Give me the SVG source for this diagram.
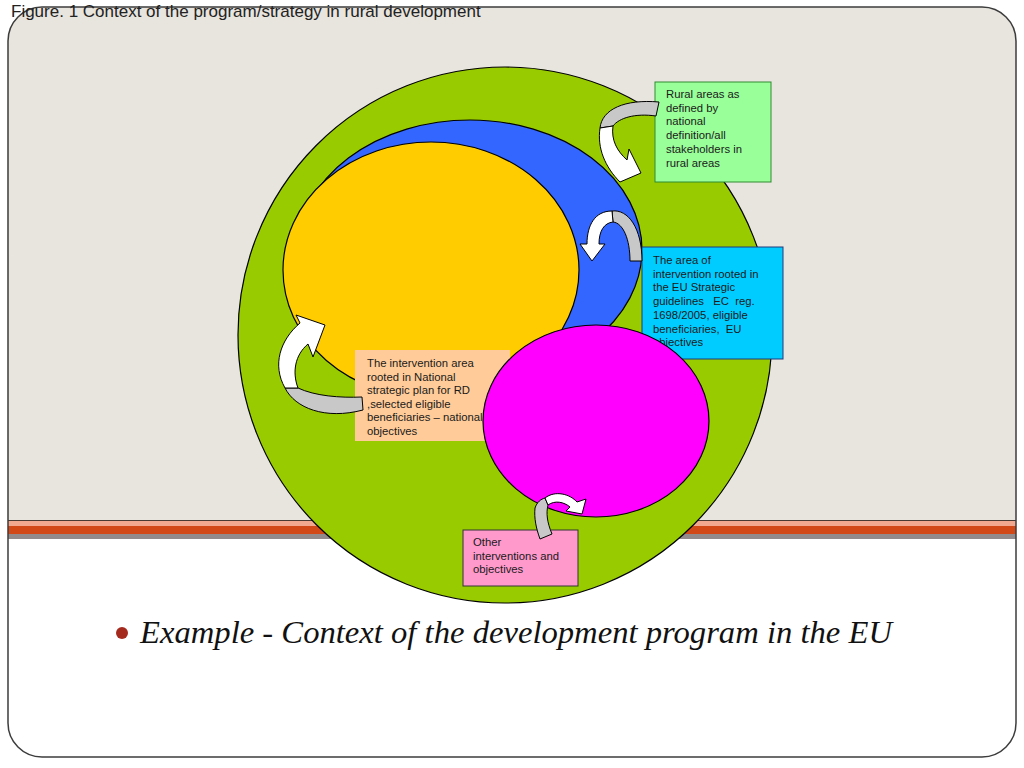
<svg xmlns="http://www.w3.org/2000/svg" width="1024" height="768" viewBox="0 0 1024 768">
  <style>
    .ell { stroke: #000; stroke-width: 1.2; }
    .box text { font-family: "Liberation Sans", Arial, sans-serif; font-size: 11.3px; fill: #1a1a1a; }
    .back { fill: #C8C8C8; stroke: #000; stroke-width: 1; stroke-linejoin: round; }
    .front { fill: #FFFFFF; stroke: #000; stroke-width: 1; stroke-linejoin: round; }
  </style>

  <!-- slide background -->
  <g id="slide">
    <rect x="0" y="0" width="1024" height="768" fill="#FFFFFF"/>
    <path d="M 8,520 V 41 A 34,34 0 0 1 42,7 H 982 A 34,34 0 0 1 1016,41 V 520 Z" fill="#E8E4DE"/>
    <rect x="8" y="521" width="1008" height="5" fill="#F2A88E"/>
    <rect x="8" y="526" width="1008" height="8" fill="#D34817"/>
    <rect x="8" y="534" width="1008" height="5" fill="#938B8B"/>
    <line x1="8" y1="520.5" x2="1016" y2="520.5" stroke="#4a3a34" stroke-width="1"/>
    <rect x="8" y="7" width="1008" height="750" rx="34" ry="34" fill="none" stroke="#3c3c3c" stroke-width="1.5"/>
    <text x="11" y="17" font-family="Liberation Sans, Arial, sans-serif" font-size="17" fill="#222">Figure. 1 Context of the program/strategy in rural development</text>
  </g>

  <!-- area nodes -->
  <g id="rural-area">
    <ellipse class="ell" cx="505" cy="335" rx="267" ry="268" fill="#99CC00"/>
  </g>
  <g id="eu-area">
    <ellipse class="ell" cx="470" cy="250" rx="172" ry="130" fill="#3366FF"/>
  </g>
  <g id="national-area">
    <ellipse class="ell" cx="431" cy="270" rx="148" ry="128" fill="#FFCC00"/>
  </g>

  <!-- label boxes -->
  <g id="box-rural" class="box">
    <rect x="655" y="82" width="116" height="100" fill="#99FF99" stroke="#2E8B2E" stroke-width="1"/>
    <text x="666" y="98">Rural areas as</text>
    <text x="666" y="111.7">defined by</text>
    <text x="666" y="125.4">national</text>
    <text x="666" y="139.1">definition/all</text>
    <text x="666" y="152.8">stakeholders in</text>
    <text x="666" y="166.5">rural areas</text>
  </g>
  <g id="box-eu" class="box">
    <rect x="642" y="247" width="141" height="112" fill="#00CCFF" stroke="#1F3A7A" stroke-width="1"/>
    <text x="653" y="264">The area of</text>
    <text x="653" y="277.7">intervention rooted in</text>
    <text x="653" y="291.4">the EU Strategic</text>
    <text x="653" y="305.1" xml:space="preserve">guidelines   EC  reg.</text>
    <text x="653" y="318.8">1698/2005, eligible</text>
    <text x="653" y="332.5" xml:space="preserve">beneficiaries,  EU</text>
    <text x="653" y="346.2">objectives</text>
  </g>
  <g id="box-national" class="box">
    <rect x="355" y="350" width="155" height="91" fill="#FFCC99"/>
    <text x="367" y="367.3">The intervention area</text>
    <text x="367" y="380.8">rooted in National</text>
    <text x="367" y="394.3">strategic plan for RD</text>
    <text x="367" y="407.8">,selected eligible</text>
    <text x="367" y="421.3">beneficiaries – national</text>
    <text x="367" y="434.8">objectives</text>
  </g>
  <g id="box-other" class="box">
    <rect x="463" y="530" width="115" height="56" fill="#FF99CC" stroke="#333" stroke-width="1"/>
    <text x="473" y="546">Other</text>
    <text x="473" y="559.5">interventions and</text>
    <text x="473" y="573">objectives</text>
  </g>

  <g id="other-area">
    <ellipse class="ell" cx="596" cy="421" rx="113" ry="96" fill="#FF00FF"/>
  </g>

  <!-- connectors: curved block arrows -->
  <g id="connectors">
    <g id="arrow-rural">
      <path class="back" d="M 600,128 C 602,109 625,99 659,102 L 656,116 C 635,113 619,118 613,126 Z"/>
      <path class="front" d="M 600,128 C 597,148 605,167 620,182 L 641,173 L 629,149 L 627,160 C 617,151 611,140 613,126 Z"/>
    </g>
    <g id="arrow-eu">
      <path class="back" d="M 612,211 C 628,209 642,228 642,261 L 630,261 C 630,239 623,223 613,222 Z"/>
      <path class="front" d="M 612,211 C 595,211 587,225 587,244 L 580,244 L 592,261 L 605,244 L 599,244 C 599,231 604,223 613,222 Z"/>
    </g>
    <g id="arrow-national">
      <path class="back" d="M 285,388 C 295,408 325,420 363,410 L 362,397 C 340,398 315,396 298,388 Z"/>
      <path class="front" d="M 285,388 C 272,365 280,340 300,323 L 296,315 L 325,325 L 313,357 L 308,344 C 295,355 292,372 298,388 Z"/>
    </g>
    <g id="arrow-other">
      <path class="back" d="M 535,508 C 537,502 541,499 545,498 L 548,505 C 546,513 547,522 552,534 L 540,539 C 536,528 534,518 535,508 Z"/>
      <path class="front" d="M 545,498 C 555,490 570,494 577,502 L 586,499 L 582,514 L 566,511 L 570,507 C 564,502 555,500 548,505 Z"/>
    </g>
  </g>

  <!-- caption -->
  <g id="caption">
    <circle cx="122" cy="633" r="6" fill="#A52A1E"/>
    <text x="140" y="643" font-family="Liberation Serif, 'Times New Roman', serif" font-style="italic" font-size="32" fill="#111" textLength="752" lengthAdjust="spacingAndGlyphs">Example - Context of the development program in the EU</text>
  </g>
</svg>
